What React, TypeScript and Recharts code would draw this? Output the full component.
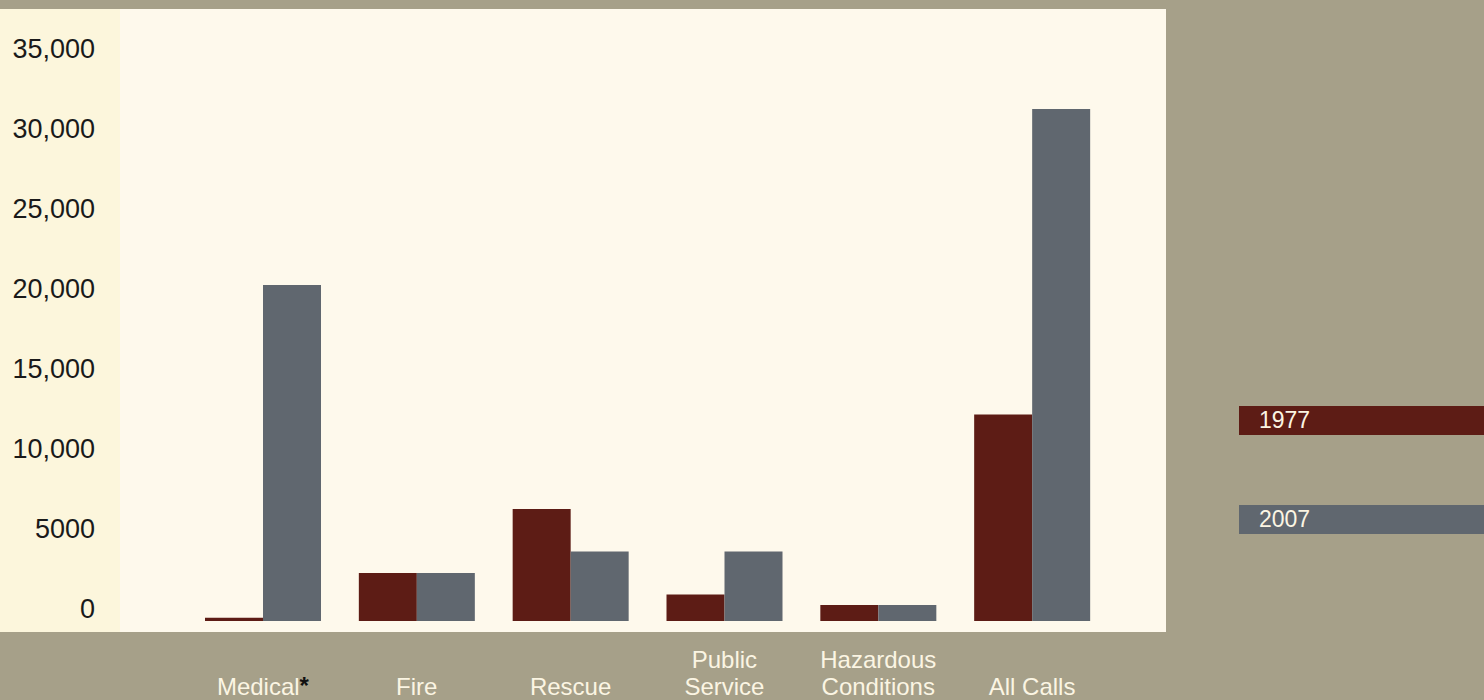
import React from 'react';
import { BarChart, Bar, XAxis, YAxis } from 'recharts';

// Emergency calls by type, 1977 vs 2007
const categories = ['Medical', 'Fire', 'Rescue', 'Public Service', 'Hazardous Conditions', 'All Calls'];
const categoryLines = [['Medical*'], ['Fire'], ['Rescue'], ['Public', 'Service'], ['Hazardous', 'Conditions'], ['All Calls']];
const calls1977 = [200, 3000, 7000, 1650, 1000, 12900];
const calls2007 = [21000, 3000, 4350, 4350, 1000, 32000];

const yTicks = [0, 5000, 10000, 15000, 20000, 25000, 30000, 35000];
const yTickLabels = ['0', '5000', '10,000', '15,000', '20,000', '25,000', '30,000', '35,000'];

const series = [
  { key: 'y1977', name: '1977', color: '#5D1C15' },
  { key: 'y2007', name: '2007', color: '#60676F' },
];

const data = categories.map((category, i) => ({
  category,
  y1977: calls1977[i],
  y2007: calls2007[i],
}));

const FONT = '"Liberation Sans", Arial, sans-serif';
const PAGE_BG = '#A6A089';
const PANEL_BG = '#FEF9EC';
const AXIS_BG = '#FCF6DC';
const LIGHT_TEXT = '#FBF5E3';

const YTick = (props: any) => {
  const { x, y, payload } = props;
  const idx = yTicks.indexOf(payload.value);
  return (
    <text x={x} y={y - 3} textAnchor="end" fontFamily={FONT} fontSize={27} fill="#1A1A1A">
      {yTickLabels[idx]}
    </text>
  );
};

// category labels sit under the plot, bottom-aligned, wrapped onto two lines where needed
const XTick = (props: any) => {
  const { x, y, payload } = props;
  const lines = categoryLines[categories.indexOf(payload.value)] || [payload.value];
  const lastBaseline = y + 74;
  return (
    <g>
      {lines.map((line: string, i: number) => {
        const baseline = lastBaseline - (lines.length - 1 - i) * 27;
        const starred = line.endsWith('*');
        return (
          <text
            key={i}
            x={x}
            y={baseline}
            textAnchor="middle"
            fontFamily={FONT}
            fontSize={24}
            fill={LIGHT_TEXT}
          >
            {starred ? line.slice(0, -1) : line}
            {starred && (
              <tspan fill="#111111" fontSize={24} fontWeight="bold" dy={-1}>*</tspan>
            )}
          </text>
        );
      })}
    </g>
  );
};

const App: React.FC = () => {
  return (
    <div style={{ position: 'absolute', left: 0, top: 0, width: 1484, height: 700, background: PAGE_BG, overflow: 'hidden' }}>
      <div style={{ position: 'absolute', left: 0, top: 9, width: 1166, height: 623, background: PANEL_BG }} />
      <div style={{ position: 'absolute', left: 0, top: 9, width: 120, height: 623, background: AXIS_BG }} />

      <div style={{ position: 'absolute', left: 0, top: 0 }}>
        <BarChart
          width={1166}
          height={700}
          data={data}
          margin={{ top: 61, right: 0, bottom: 0, left: 0 }}
          barGap={0}
          barSize={58}
        >
          <XAxis
            dataKey="category"
            height={79}
            axisLine={false}
            tickLine={false}
            tickSize={0}
            tickMargin={0}
            interval={0}
            padding={{ left: 66, right: 57 }}
            tick={<XTick />}
          />
          <YAxis
            width={120}
            domain={[0, 35000]}
            ticks={yTicks}
            axisLine={false}
            tickLine={false}
            tickSize={0}
            tickMargin={25}
            interval={0}
            tick={<YTick />}
          />
          {series.map((s) => (
            <Bar key={s.key} dataKey={s.key} name={s.name} fill={s.color} isAnimationActive={false} />
          ))}
        </BarChart>
      </div>

      <div style={{ position: 'absolute', left: 1239, top: 406, width: 245 }}>
        {series.map((s, i) => (
          <div
            key={s.key}
            style={{
              height: 29,
              lineHeight: '29px',
              marginTop: i === 0 ? 0 : 70,
              paddingLeft: 20,
              background: s.color,
              color: LIGHT_TEXT,
              fontFamily: FONT,
              fontSize: 23,
            }}
          >
            {s.name}
          </div>
        ))}
      </div>
    </div>
  );
};

export default App;
